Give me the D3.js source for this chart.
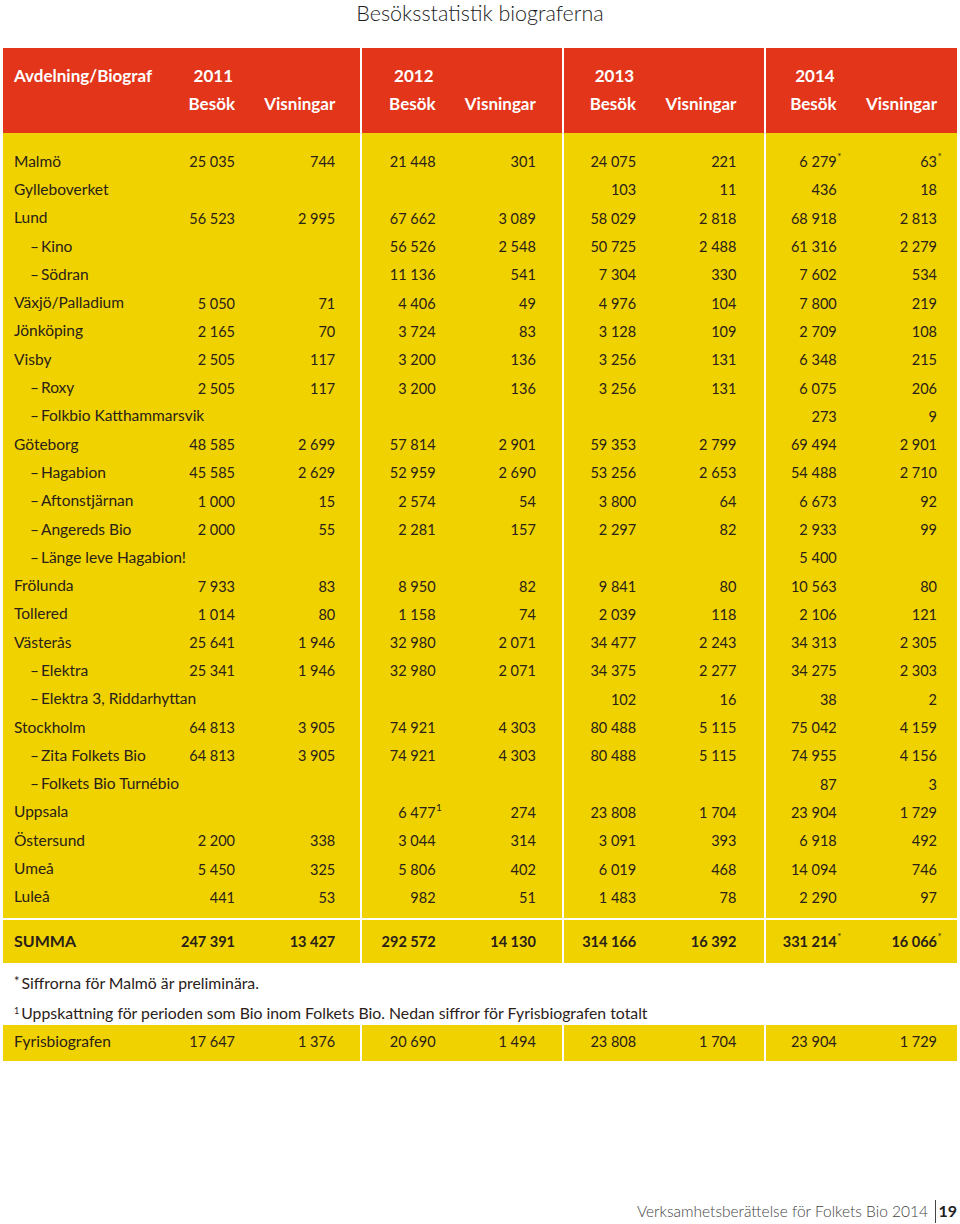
<!DOCTYPE html>
<html><head><meta charset="utf-8">
<script src="https://cdn.jsdelivr.net/npm/d3@7"></script>
<style>body{margin:0;background:#fff}svg{display:block}</style>
</head><body><svg id="c" width="960" height="1224"></svg>
<script>
// ---------- DATA ----------
const title = "Besöksstatistik biograferna";
const firstHeader = "Avdelning/Biograf";
const years = ["2011", "2012", "2013", "2014"];
const measures = ["Besök", "Visningar"];

const venues = ["Malmö", "Gylleboverket", "Lund", "– Kino", "– Södran", "Växjö/Palladium", "Jönköping",
  "Visby", "– Roxy", "– Folkbio Katthammarsvik", "Göteborg", "– Hagabion", "– Aftonstjärnan",
  "– Angereds Bio", "– Länge leve Hagabion!", "Frölunda", "Tollered", "Västerås", "– Elektra",
  "– Elektra 3, Riddarhyttan", "Stockholm", "– Zita Folkets Bio", "– Folkets Bio Turnébio",
  "Uppsala", "Östersund", "Umeå", "Luleå"];

const besok2011 = [25035, null, 56523, null, null, 5050, 2165, 2505, 2505, null, 48585, 45585, 1000, 2000, null, 7933, 1014, 25641, 25341, null, 64813, 64813, null, null, 2200, 5450, 441];
const vis2011   = [744, null, 2995, null, null, 71, 70, 117, 117, null, 2699, 2629, 15, 55, null, 83, 80, 1946, 1946, null, 3905, 3905, null, null, 338, 325, 53];
const besok2012 = [21448, null, 67662, 56526, 11136, 4406, 3724, 3200, 3200, null, 57814, 52959, 2574, 2281, null, 8950, 1158, 32980, 32980, null, 74921, 74921, null, 6477, 3044, 5806, 982];
const vis2012   = [301, null, 3089, 2548, 541, 49, 83, 136, 136, null, 2901, 2690, 54, 157, null, 82, 74, 2071, 2071, null, 4303, 4303, null, 274, 314, 402, 51];
const besok2013 = [24075, 103, 58029, 50725, 7304, 4976, 3128, 3256, 3256, null, 59353, 53256, 3800, 2297, null, 9841, 2039, 34477, 34375, 102, 80488, 80488, null, 23808, 3091, 6019, 1483];
const vis2013   = [221, 11, 2818, 2488, 330, 104, 109, 131, 131, null, 2799, 2653, 64, 82, null, 80, 118, 2243, 2277, 16, 5115, 5115, null, 1704, 393, 468, 78];
const besok2014 = [6279, 436, 68918, 61316, 7602, 7800, 2709, 6348, 6075, 273, 69494, 54488, 6673, 2933, 5400, 10563, 2106, 34313, 34275, 38, 75042, 74955, 87, 23904, 6918, 14094, 2290];
const vis2014   = [63, 18, 2813, 2279, 534, 219, 108, 215, 206, 9, 2901, 2710, 92, 99, null, 80, 121, 2305, 2303, 2, 4159, 4156, 3, 1729, 492, 746, 97];

const sumLabel = "SUMMA";
const sumValues = [247391, 13427, 292572, 14130, 314166, 16392, 331214, 16066];
const sumMarks  = ["", "", "", "", "", "", "*", "*"];

// footnote marks inside the body: [venue, series index, mark]
const bodyMarks = [["Malmö", 6, "*"], ["Malmö", 7, "*"], ["Uppsala", 2, "1"]];

const footnote1 = "Siffrorna för Malmö är preliminära.";
const footnote2 = "Uppskattning för perioden som Bio inom Folkets Bio. Nedan siffror för Fyrisbiografen totalt";
const fyrisLabel = "Fyrisbiografen";
const fyrisValues = [17647, 1376, 20690, 1494, 23808, 1704, 23904, 1729];

const footerText = "Verksamhetsberättelse för Folkets Bio 2014";
const pageNumber = "19";

// ---------- LAYOUT ----------
const series = [besok2011, vis2011, besok2012, vis2012, besok2013, vis2013, besok2014, vis2014];
const RED = "#e2351a", YEL = "#f0d200", INK = "#2a2118";
const FONT = "Lato, 'Open Sans', sans-serif";
const fmt = v => d3.format(",")(v).replace(/,/g, "\u00a0");

const svg = d3.select("#c");
const colX = d3.scaleLinear().domain([0, 7]).range([235, 937]);
const rowY = d3.scaleBand().domain(d3.range(venues.length)).range([147, 911]);
const groups = [[3, 360], [362, 562], [564, 764], [766, 957]];
const sections = [
  {y0: 48, y1: 133, fill: RED},
  {y0: 133, y1: 918, fill: YEL},
  {y0: 920, y1: 963, fill: YEL},
  {y0: 1025, y1: 1061, fill: YEL}
];

// backgrounds
sections.forEach(s => {
  svg.append("g").selectAll("rect").data(groups).join("rect")
    .attr("x", d => d[0]).attr("width", d => d[1] - d[0])
    .attr("y", s.y0).attr("height", s.y1 - s.y0)
    .attr("fill", s.fill);
});

// title
svg.append("text").attr("x", 480).attr("y", 21).attr("text-anchor", "middle")
  .attr("font-family", FONT).attr("font-size", 21.5).attr("font-weight", 300).attr("fill", "#1c1c1c")
  .text(title);

// header
const hdr = svg.append("g").attr("font-family", FONT).attr("font-weight", 700)
  .attr("font-size", 17).attr("fill", "#fff");
hdr.append("text").attr("x", 14).attr("y", 82).text(firstHeader);
hdr.selectAll("text.yr").data(years).join("text").attr("class", "yr")
  .attr("x", (d, i) => colX(i * 2) - 2).attr("y", 82).attr("text-anchor", "end").text(d => d);
hdr.selectAll("text.ms").data(d3.range(8)).join("text").attr("class", "ms")
  .attr("x", i => colX(i)).attr("y", 110).attr("text-anchor", "end")
  .text(i => measures[i % 2]);

// body names
const body = svg.append("g").attr("font-family", FONT).attr("fill", INK);
body.selectAll("text.nm").data(venues).join("text").attr("class", "nm")
  .attr("x", d => d.startsWith("–") ? 30 : 14)
  .attr("y", (d, i) => rowY(i) + rowY.bandwidth() / 2 + 5.5)
  .attr("font-size", 15.5)
  .text(d => d.startsWith("–") ? "–\u2009" + d.slice(2) : d);

// body numbers
const cells = [];
series.forEach((arr, c) => arr.forEach((v, r) => { if (v != null) cells.push({r, c, v}); }));
body.selectAll("text.num").data(cells).join("text").attr("class", "num")
  .attr("x", d => colX(d.c)).attr("y", d => rowY(d.r) + rowY.bandwidth() / 2 + 6)
  .attr("text-anchor", "end").attr("font-size", 14.5)
  .text(d => fmt(d.v));

// body marks
body.selectAll("text.mk").data(bodyMarks).join("text").attr("class", "mk")
  .attr("x", d => colX(d[1]) + 0.5)
  .attr("y", d => rowY(venues.indexOf(d[0])) + rowY.bandwidth() / 2 - 1)
  .attr("font-size", 10).text(d => d[2]);

// SUMMA row
const sumY = 947;
const sg = svg.append("g").attr("font-family", FONT).attr("fill", INK).attr("font-weight", 700);
sg.append("text").attr("x", 14).attr("y", sumY).attr("font-size", 16).text(sumLabel);
sg.selectAll("text.sv").data(sumValues).join("text").attr("class", "sv")
  .attr("x", (d, i) => colX(i)).attr("y", sumY).attr("text-anchor", "end").attr("font-size", 14.5)
  .text(d => fmt(d));
sg.selectAll("text.sm").data(sumMarks).join("text").attr("class", "sm")
  .attr("x", (d, i) => colX(i) + 0.5).attr("y", sumY - 7).attr("font-size", 10).attr("font-weight", 400)
  .text(d => d);

// footnotes
const fn = svg.append("g").attr("font-family", FONT).attr("fill", INK).attr("font-size", 15.8);
const f1 = fn.append("text").attr("x", 14).attr("y", 989);
f1.append("tspan").attr("font-size", 13).attr("dy", -3).text("*");
f1.append("tspan").attr("dy", 3).text("\u2009" + footnote1);
const f2 = fn.append("text").attr("x", 14).attr("y", 1019);
f2.append("tspan").attr("font-size", 9).attr("dy", -5).text("1");
f2.append("tspan").attr("dy", 5).text("\u2009" + footnote2);

// Fyris row
const fyY = 1047;
const fg = svg.append("g").attr("font-family", FONT).attr("fill", INK);
fg.append("text").attr("x", 14).attr("y", fyY).attr("font-size", 15.5).text(fyrisLabel);
fg.selectAll("text.fv").data(fyrisValues).join("text").attr("class", "fv")
  .attr("x", (d, i) => colX(i)).attr("y", fyY).attr("text-anchor", "end").attr("font-size", 14.5)
  .text(d => fmt(d));

// footer
const ft = svg.append("g").attr("font-family", FONT).attr("fill", "#444");
ft.append("text").attr("x", 928).attr("y", 1217).attr("text-anchor", "end").attr("font-size", 15.5)
  .attr("font-weight", 300).text(footerText);
ft.append("line").attr("x1", 935.5).attr("x2", 935.5).attr("y1", 1200).attr("y2", 1223)
  .attr("stroke", "#444").attr("stroke-width", 1);
ft.append("text").attr("x", 957).attr("y", 1217).attr("text-anchor", "end").attr("font-size", 16)
  .attr("font-weight", 700).attr("fill", "#222").text(pageNumber);
</script></body></html>
